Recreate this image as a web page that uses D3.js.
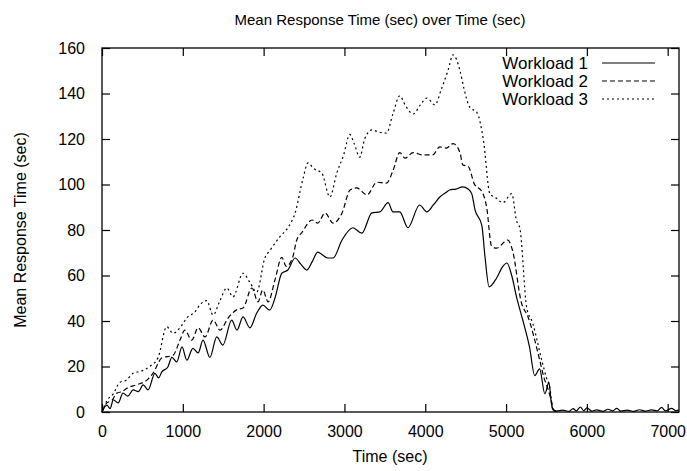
<!DOCTYPE html>
<html>
<head>
<meta charset="utf-8">
<script src="https://cdn.jsdelivr.net/npm/d3@7/dist/d3.min.js"></script>
<style>
  html, body { margin: 0; padding: 0; background: #fff; }
  svg { display: block; }
  text { font-family: "Liberation Sans", Arial, Helvetica, sans-serif; fill: #000; }
</style>
</head>
<body>
<svg id="chart" width="687" height="471"></svg>
<script>
// ---- Data ----
const chartTitle = "Mean Response Time (sec) over Time (sec)";
const xLabel = "Time (sec)";
const yLabel = "Mean Response Time (sec)";
const seriesNames = ["Workload 1", "Workload 2", "Workload 3"];
const xTicks = [0, 1000, 2000, 3000, 4000, 5000, 6000, 7000];
const yTicks = [0, 20, 40, 60, 80, 100, 120, 140, 160];
const xDomain = [0, 7140];
const yDomain = [0, 160];

const w1Time = [0, 60, 100, 140, 200, 260, 320, 385, 450, 510, 570, 655, 700, 740, 815, 865, 925, 990, 1050, 1125, 1190, 1250, 1335, 1420, 1495, 1605, 1670, 1745, 1830, 1915, 1990, 2075, 2140, 2225, 2300, 2390, 2460, 2535, 2600, 2670, 2730, 2795, 2860, 2970, 3105, 3215, 3340, 3440, 3540, 3600, 3685, 3785, 3930, 4020, 4100, 4180, 4265, 4300, 4380, 4465, 4530, 4575, 4615, 4700, 4740, 4790, 4885, 4960, 5010, 5070, 5130, 5210, 5290, 5355, 5415, 5480, 5530, 5560, 5580, 5620, 5700, 5780, 5830, 5870, 5920, 5960, 6000, 6060, 6120, 6200, 6260, 6320, 6370, 6420, 6500, 6580, 6650, 6720, 6800, 6870, 6925, 6970, 7050, 7100, 7140];
const w1Values = [0, 3, 1.5, 5.3, 4, 8.3, 7, 9.7, 9, 11.9, 9.7, 17, 15, 17.6, 19.8, 24, 22, 28.6, 22.8, 28, 26, 31.6, 24, 33, 29.4, 40.4, 36, 41.8, 37, 43.5, 47, 44.8, 50, 61, 62.4, 67.7, 65, 62.4, 66, 70.3, 69, 67.7, 67.7, 75.6, 81, 78.6, 87.5, 88, 92, 88, 88, 81, 91, 88, 91, 94.5, 96.7, 97.6, 98, 99, 98, 96, 89, 82, 68, 55, 59, 64, 65.5, 60, 50.5, 40, 28.6, 16, 19, 8, 13, 4, 1, 0.4, 0.8, 0.3, 1.5, 0.5, 2.2, 0.6, 1.8, 0.4, 0.9, 0.3, 1.2, 0.5, 1.6, 0.4, 0.8, 0.3, 1.0, 0.4, 0.9, 0.5, 2.0, 0.5, 1.6, 0.6, 0.8];

const w2Time = [0, 60, 120, 185, 250, 310, 430, 555, 630, 740, 880, 965, 1025, 1110, 1190, 1275, 1375, 1460, 1560, 1670, 1745, 1855, 1930, 1990, 2055, 2140, 2225, 2280, 2360, 2410, 2470, 2600, 2670, 2760, 2860, 2970, 3070, 3150, 3280, 3400, 3520, 3600, 3685, 3750, 3850, 3970, 4090, 4180, 4260, 4345, 4430, 4465, 4530, 4610, 4700, 4760, 4820, 4880, 5020, 5080, 5190, 5270, 5415, 5470, 5520, 5560, 5590, 5650];
const w2Values = [0, 4, 5, 8.3, 9, 10.5, 12, 14, 17, 23.7, 25, 31.6, 36, 31.6, 37, 33, 40.4, 36, 41.3, 45, 45.7, 54.5, 48.4, 53.6, 48.4, 58, 68, 64, 68, 75.6, 78.7, 84.4, 83, 87.5, 83, 87.5, 97.6, 98.5, 95.4, 101, 100.6, 106, 114, 111.6, 114, 113, 113, 116.5, 116, 118, 114, 108.6, 108, 100, 97, 90, 73, 72, 75.6, 71, 48, 42, 23, 15, 10, 5, 1, 0];

const w3Time = [0, 60, 140, 220, 300, 385, 490, 590, 695, 800, 880, 985, 1050, 1150, 1210, 1295, 1375, 1460, 1545, 1620, 1745, 1830, 1915, 2015, 2078, 2200, 2300, 2390, 2490, 2550, 2620, 2720, 2820, 2905, 2990, 3067, 3120, 3190, 3250, 3340, 3430, 3520, 3600, 3685, 3750, 3850, 3940, 4020, 4120, 4200, 4280, 4345, 4430, 4480, 4550, 4640, 4720, 4800, 4880, 4960, 5070, 5130, 5170, 5255, 5330, 5440, 5500, 5540, 5580, 5650];
const w3Values = [0, 5, 8, 13, 14, 17, 18, 20, 24, 37.5, 34.6, 38, 41.4, 44, 47, 49, 42.6, 49, 54.5, 50.6, 61, 57, 52.7, 67.7, 71, 77, 81, 87.5, 103, 109.5, 107, 105, 94.5, 105, 113, 122, 118, 112, 120, 124, 123, 122.6, 131, 139, 135, 131, 135, 138, 135, 142, 150, 157, 150, 142, 134, 131.6, 119.5, 96, 94, 92, 96, 84, 81, 46, 39, 23, 15, 11, 1, 0];

const dashStyles = [null, "5,3", "2,3"];

// ---- Layout ----
const margin = { left: 102, right: 8, top: 48, bottom: 59 };
const W = 687, H = 471;
const svg = d3.select("#chart");
const x = d3.scaleLinear().domain(xDomain).range([margin.left, W - margin.right]);
const y = d3.scaleLinear().domain(yDomain).range([H - margin.bottom, margin.top]);
const tickLen = 8;
const fontSize = 16;

// series
const series = [
  { name: seriesNames[0], t: w1Time, v: w1Values, dash: dashStyles[0] },
  { name: seriesNames[1], t: w2Time, v: w2Values, dash: dashStyles[1] },
  { name: seriesNames[2], t: w3Time, v: w3Values, dash: dashStyles[2] }
];
const line = d3.line().curve(d3.curveMonotoneX).x(d => x(d[0])).y(d => y(d[1]));
const plot = svg.append("g");
series.slice().reverse().forEach(s => {
  const pts = s.t.map((t, i) => [t, s.v[i]]);
  plot.append("path")
    .attr("d", line(pts))
    .attr("fill", "none")
    .attr("stroke", "#000")
    .attr("stroke-width", 1.2)
    .attr("stroke-linejoin", "round")
    .attr("stroke-dasharray", s.dash);
});

// axes (inward ticks, mirrored)
const axB = d3.axisBottom(x).tickValues(xTicks).tickSizeInner(-tickLen).tickSizeOuter(0).tickPadding(tickLen + 6).tickFormat(d3.format("d"));
const axT = d3.axisTop(x).tickValues(xTicks).tickSizeInner(-tickLen).tickSizeOuter(0).tickFormat("");
const axL = d3.axisLeft(y).tickValues(yTicks).tickSizeInner(-tickLen).tickSizeOuter(0).tickPadding(tickLen + 9).tickFormat(d3.format("d"));
const axR = d3.axisRight(y).tickValues(yTicks).tickSizeInner(-tickLen).tickSizeOuter(0).tickFormat("");

function style(g) {
  g.select(".domain").remove();
  g.selectAll(".tick line").attr("stroke", "#000").attr("stroke-width", 1.2);
  g.selectAll("text").style("font-size", fontSize + "px").attr("font-family", null);
}
svg.append("g").attr("transform", `translate(0,${H - margin.bottom})`).call(axB).call(style);
svg.append("g").attr("transform", `translate(0,${margin.top})`).call(axT).call(style);
svg.append("g").attr("transform", `translate(${margin.left},0)`).call(axL).call(style);
svg.append("g").attr("transform", `translate(${W - margin.right},0)`).call(axR).call(style);

// frame
svg.append("rect")
  .attr("x", margin.left).attr("y", margin.top)
  .attr("width", W - margin.left - margin.right)
  .attr("height", H - margin.top - margin.bottom)
  .attr("fill", "none").attr("stroke", "#000").attr("stroke-width", 1.3);

// titles
svg.append("text").attr("x", 380).attr("y", 25).attr("text-anchor", "middle")
  .style("font-size", "15px").text(chartTitle);
svg.append("text").attr("x", 390).attr("y", 462).attr("text-anchor", "middle")
  .style("font-size", fontSize + "px").text(xLabel);
svg.append("text").attr("transform", "translate(26,230) rotate(-90)").attr("text-anchor", "middle")
  .style("font-size", fontSize + "px").text(yLabel);

// legend
const leg = svg.append("g");
series.forEach((s, i) => {
  const ly = 63 + i * 18;
  leg.append("text").attr("x", 588).attr("y", ly).attr("dy", "0.35em").attr("text-anchor", "end")
    .style("font-size", "17px").text(s.name);
  leg.append("line").attr("x1", 602).attr("x2", 655).attr("y1", ly).attr("y2", ly)
    .attr("stroke", "#000").attr("stroke-width", 1.1).attr("stroke-dasharray", s.dash);
});
</script>
</body>
</html>
